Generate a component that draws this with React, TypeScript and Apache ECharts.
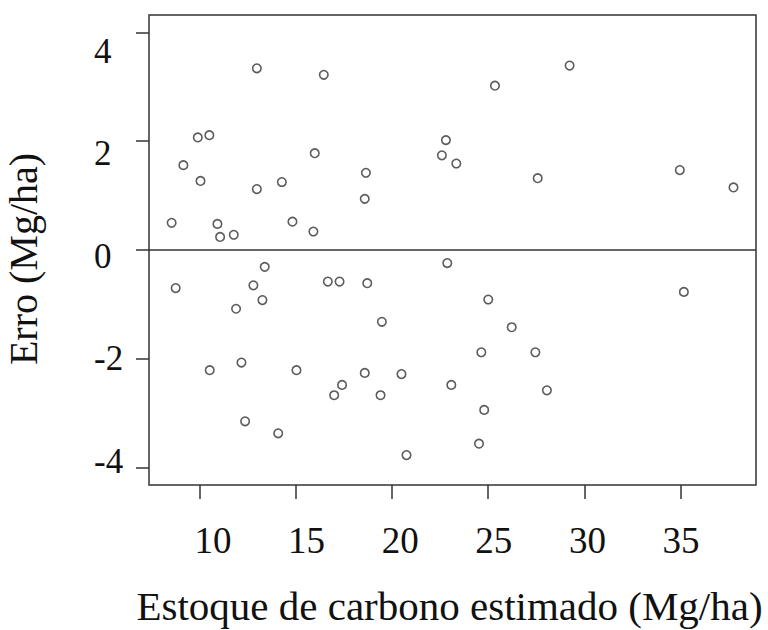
import React, { useEffect, useRef } from "react";
import * as echarts from "echarts";

// Estimated carbon stock (Mg/ha) for each plot
const carbonEstimate: number[] = [
  8.54, 9.15, 9.9, 10.5, 10.04, 10.92, 11.06, 11.77, 12.97, 12.97, 14.27, 14.82,
  15.98, 15.91, 16.45, 18.64, 18.58, 22.8, 22.59, 23.34, 25.35, 29.23, 27.57,
  34.96, 37.75,
  8.75, 13.38, 12.79, 13.26, 11.89, 16.66, 17.27, 18.71, 19.47, 22.87, 10.52,
  12.17, 15.03, 12.36, 14.08, 17.4, 16.99, 18.58, 19.4, 20.49, 20.75, 23.08,
  25.0, 26.22, 24.64, 27.45, 28.05, 24.79, 24.52, 35.17,
];

// Prediction error (Mg/ha) for the same plots
const residualError: number[] = [
  0.5, 1.56, 2.07, 2.11, 1.27, 0.48, 0.24, 0.28, 3.34, 1.12, 1.25, 0.52,
  1.78, 0.34, 3.22, 1.42, 0.94, 2.02, 1.74, 1.59, 3.02, 3.39, 1.32,
  1.47, 1.15,
  -0.7, -0.31, -0.65, -0.92, -1.08, -0.58, -0.58, -0.61, -1.32, -0.24, -2.21,
  -2.07, -2.21, -3.15, -3.37, -2.48, -2.67, -2.26, -2.67, -2.28, -3.77, -2.48,
  -0.91, -1.42, -1.88, -1.88, -2.58, -2.94, -3.56, -0.77,
];

const xTicks: number[] = [10, 15, 20, 25, 30, 35];
const yTicks: number[] = [-4, -2, 0, 2, 4];

const xTitle = "Estoque de carbono estimado (Mg/ha)";
const yTitle = "Erro (Mg/ha)";

const INK = "#333";
const FONT = "'Liberation Serif', 'Times New Roman', serif";

const PLOT = { left: 149, top: 15, width: 607, height: 470 };

export default function App() {
  const ref = useRef<HTMLDivElement>(null);

  useEffect(() => {
    if (!ref.current) return;
    const chart = echarts.init(ref.current, undefined, { renderer: "svg" });

    const points = carbonEstimate.map((x, i) => [x, residualError[i]]);

    chart.setOption({
      animation: false,
      backgroundColor: "#fff",
      textStyle: { fontFamily: FONT, color: "#111" },
      grid: [
        {
          // plotting panel: box, ticks and points
          ...PLOT,
          show: true,
          borderColor: INK,
          borderWidth: 1.5,
          backgroundColor: "transparent",
          containLabel: false,
          outerBoundsMode: "none",
        },
        {
          // same rectangle, carries the tick labels
          ...PLOT,
          show: false,
          containLabel: false,
          outerBoundsMode: "none",
        },
      ],
      xAxis: [
        {
          gridIndex: 0,
          type: "value",
          min: 7.363,
          max: 38.92,
          position: "bottom",
          axisLine: { show: false, onZero: false },
          splitLine: { show: false },
          axisTick: {
            show: true,
            inside: false,
            length: 14,
            customValues: xTicks,
            lineStyle: { color: INK, width: 1.5 },
          },
          axisLabel: { show: false },
          name: xTitle,
          nameLocation: "middle",
          nameGap: 100,
          nameTextStyle: {
            fontFamily: FONT,
            fontSize: 41,
            color: "#111",
            padding: [0, 6, 0, 0],
          },
        },
        {
          gridIndex: 1,
          type: "value",
          min: 6.581,
          max: 39.006,
          position: "bottom",
          axisLine: { show: false, onZero: false },
          splitLine: { show: false },
          axisTick: { show: false },
          axisLabel: {
            show: true,
            customValues: xTicks,
            margin: 37,
            fontFamily: FONT,
            fontSize: 37,
            color: "#111",
          },
        },
      ],
      yAxis: [
        {
          gridIndex: 0,
          type: "value",
          min: -4.32,
          max: 4.32,
          position: "left",
          axisLine: { show: false, onZero: false },
          splitLine: { show: false },
          axisTick: {
            show: true,
            inside: false,
            length: 13,
            customValues: yTicks,
            lineStyle: { color: INK, width: 1.5 },
          },
          axisLabel: { show: false },
          name: yTitle,
          nameLocation: "middle",
          nameRotate: 90,
          nameGap: 106,
          nameTextStyle: {
            fontFamily: FONT,
            fontSize: 40,
            color: "#111",
            padding: [0, 18, 0, 0],
          },
        },
        {
          gridIndex: 1,
          type: "value",
          min: -4.462,
          max: 4.708,
          position: "left",
          axisLine: { show: false, onZero: false },
          splitLine: { show: false },
          axisTick: { show: false },
          axisLabel: {
            show: true,
            customValues: yTicks,
            align: "left",
            margin: 55,
            fontFamily: FONT,
            fontSize: 35,
            color: "#111",
          },
        },
      ],
      series: [
        {
          type: "scatter",
          xAxisIndex: 0,
          yAxisIndex: 0,
          data: points,
          symbol: "circle",
          symbolSize: 8.5,
          itemStyle: { color: "#fff", borderColor: INK, borderWidth: 1.6 },
          markLine: {
            silent: true,
            symbol: ["none", "none"],
            label: { show: false },
            lineStyle: { color: INK, width: 1.5, type: "solid" },
            data: [{ yAxis: 0 }],
          },
        },
      ],
    });

    return () => chart.dispose();
  }, []);

  return (
    <div
      ref={ref}
      style={{ position: "fixed", left: 0, top: 0, width: 768, height: 630, background: "#fff" }}
    />
  );
}
